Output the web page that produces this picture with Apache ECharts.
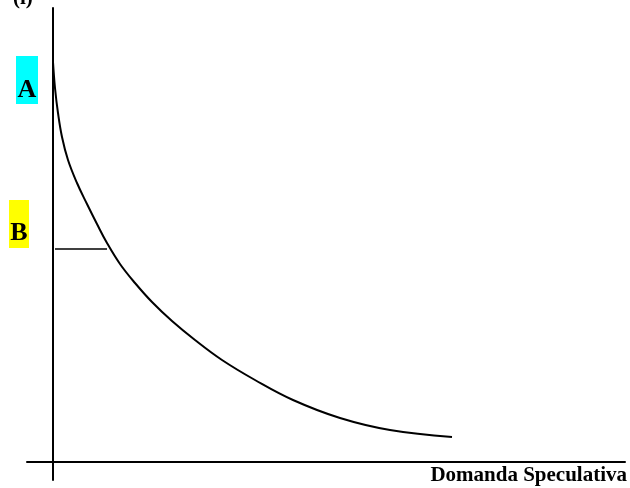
<!DOCTYPE html>
<html>
<head>
<meta charset="utf-8">
<script src="https://cdn.jsdelivr.net/npm/echarts@6/dist/echarts.min.js"></script>
<style>
  html, body { margin: 0; padding: 0; background: #fff; }
  #main { width: 630px; height: 488px; }
</style>
</head>
<body>
<div id="main"></div>
<script>
// curva della domanda speculativa di moneta
const curveX = [0, 2, 5, 9, 15, 24, 34, 44, 54, 67, 82, 99, 119, 142, 169, 202, 240, 287, 337, 399]
const curveY = [400, 374, 349, 325, 302, 279, 258, 238, 219, 198, 179, 160, 141, 122, 102, 82, 62, 44, 32, 25]
// segmento orizzontale al livello B
const levelBX = [2, 54]
const levelBY = 213
const xName = "Domanda Speculativa"
const yName = "(i)"
const labelA = "A"
const labelB = "B"

const serif = "'Liberation Serif', 'Times New Roman', serif"
const chart = echarts.init(document.getElementById("main"))

chart.setOption({
  animation: false,
  backgroundColor: "#fff",
  grid: { left: 27, right: 5, top: 8, bottom: 8, containLabel: false },
  xAxis: {
    type: "value",
    min: -26,
    max: 572,
    axisLine: { onZero: true, lineStyle: { color: "#000", width: 2 } },
    axisTick: { show: false },
    axisLabel: { show: false },
    splitLine: { show: false }
  },
  yAxis: {
    type: "value",
    min: -18,
    max: 454,
    axisLine: { onZero: true, lineStyle: { color: "#000", width: 2 } },
    axisTick: { show: false },
    axisLabel: { show: false },
    splitLine: { show: false }
  },
  series: [
    {
      type: "line",
      data: curveX.map((x, i) => [x, curveY[i]]),
      smooth: 0.4,
      showSymbol: false,
      lineStyle: { color: "#000", width: 2 }
    },
    {
      type: "line",
      data: levelBX.map(x => [x, levelBY]),
      showSymbol: false,
      lineStyle: { color: "#000", width: 1.5 }
    }
  ],
  graphic: [
    { type: "rect", shape: { x: 16, y: 56, width: 22, height: 48 }, style: { fill: "#00ffff" } },
    { type: "rect", shape: { x: 9, y: 200, width: 20, height: 48 }, style: { fill: "#ffff00" } },
    {
      type: "text", x: 27, y: 90,
      style: { text: labelA, font: "bold 26px " + serif, fill: "#000", textAlign: "center", textVerticalAlign: "middle" }
    },
    {
      type: "text", x: 19, y: 233,
      style: { text: labelB, font: "bold 26px " + serif, fill: "#000", textAlign: "center", textVerticalAlign: "middle" }
    },
    {
      type: "text", x: 13, y: 9,
      style: { text: yName, font: "bold 21px " + serif, fill: "#000", textAlign: "left", textVerticalAlign: "bottom" }
    },
    {
      type: "text", x: 627, y: 476,
      style: { text: xName, font: "bold 21px " + serif, fill: "#000", textAlign: "right", textVerticalAlign: "middle" }
    }
  ]
})
</script>
</body>
</html>
